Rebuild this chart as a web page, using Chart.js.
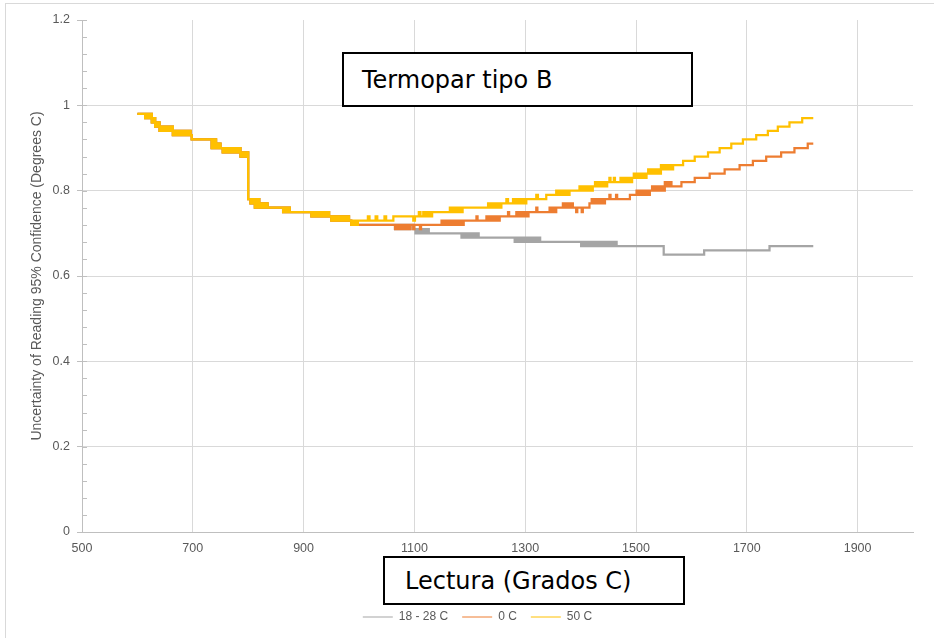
<!DOCTYPE html>
<html lang="es">
<head>
<meta charset="UTF-8">
<title>Termopar tipo B</title>
<script src="https://cdn.jsdelivr.net/npm/chart.js"></script>
<style>
    body {
        margin: 0;
        background: #fff;
    }
    #wrap {
        position: relative;
        width: 934px;
        height: 638px;
        overflow: hidden;
        background: #fff;
    }
    #frame {
        position: absolute;
        left: 5px;
        top: 3px;
        width: 1000px;
        height: 700px;
        border-left: 1px solid #d9d9d9;
        border-top: 1px solid #d9d9d9;
    }
    #chart {
        position: absolute;
        left: 0;
        top: 0;
    }
    .box {
        position: absolute;
        box-sizing: border-box;
        border: 2px solid #000;
        background: #fff;
        color: #000;
        font-family: 'DejaVu Sans', Verdana, sans-serif;
        font-size: 24px;
        display: flex;
        align-items: center;
        white-space: nowrap;
    }
    #titleBox {
        left: 342px;
        top: 52px;
        width: 351px;
        height: 55px;
        padding-left: 18px;
    }
    #axisBox {
        left: 383px;
        top: 556px;
        width: 302px;
        height: 49px;
        padding-left: 20px;
    }
</style>
</head>
<body>
<div id="wrap">
    <div id="frame"></div>
    <canvas id="chart" width="934" height="638"></canvas>
    <div class="box" id="titleBox">Termopar tipo B</div>
    <div class="box" id="axisBox">Lectura (Grados C)</div>
</div>

<script>
    // tick labels
    const xTicks = [500, 700, 900, 1100, 1300, 1500, 1700, 1900];
    const yTicks = [0, 0.2, 0.4, 0.6, 0.8, 1, 1.2];
    const seriesNames = ['18 - 28 C', '0 C', '50 C'];

    // [reading, uncertainty] change points
    // 600-982: the three curves lie on top of each other
    const sharedStart = [
        [600,0.98],[614,0.97],[617,0.98],[620,0.97],[623,0.98],[626,0.96],[629,0.97],[632,0.95],
        [636,0.96],[640,0.94],[644,0.95],[648,0.94],[652,0.95],[656,0.94],[660,0.95],
        [664,0.93],[668,0.94],[672,0.93],[676,0.94],[680,0.93],[684,0.94],[688,0.93],[692,0.94],[696,0.93],
        [698,0.92],
        [734,0.90],[738,0.92],[742,0.90],[746,0.91],[750,0.90],
        [754,0.89],[758,0.90],[762,0.89],[766,0.90],[770,0.89],[774,0.90],[778,0.89],[782,0.90],
        [786,0.88],[790,0.89],[794,0.88],[797,0.89],
        [800,0.78],[804,0.77],[808,0.78],[812,0.76],[816,0.78],[820,0.76],[824,0.77],[828,0.76],[832,0.77],
        [835,0.76],
        [863,0.75],[866,0.76],[869,0.75],[872,0.76],[875,0.75],
        [914,0.74],[918,0.75],[922,0.74],[926,0.75],[930,0.74],[934,0.75],[938,0.74],[942,0.75],[946,0.74],
        [950,0.73],[954,0.74],[958,0.73],[962,0.74],[966,0.73],[970,0.74],[974,0.73],[978,0.74],[982,0.73]
    ];

    // 986-1093: grey and orange still together
    const coldShared = [
        [986,0.72],
        [1065,0.71],[1069,0.72],[1073,0.71],[1077,0.72],[1081,0.71],[1085,0.72],[1089,0.71],[1093,0.72]
    ];

    const greyTail = [
        [1098,0.71],[1102,0.70],[1106,0.71],[1110,0.70],[1114,0.71],[1118,0.70],[1122,0.71],[1126,0.70],
        [1185,0.69],[1189,0.70],[1193,0.69],[1197,0.70],[1201,0.69],[1205,0.70],[1209,0.69],[1213,0.70],[1216,0.69],
        [1281,0.68],[1285,0.69],[1289,0.68],[1293,0.69],[1297,0.68],[1301,0.69],[1305,0.68],[1309,0.69],
        [1313,0.68],[1317,0.69],[1321,0.68],[1325,0.69],[1327,0.68],
        [1401,0.67],[1405,0.68],[1409,0.67],[1413,0.68],[1417,0.67],[1421,0.68],[1425,0.67],[1429,0.68],
        [1433,0.67],[1437,0.68],[1441,0.67],[1445,0.68],[1449,0.67],[1453,0.68],[1457,0.67],[1461,0.68],[1465,0.67],
        [1550,0.65],[1623,0.66],[1741,0.67],[1820,0.67]
    ];

    const orangeTail = [
        [1098,0.71],[1100,0.72],[1110,0.71],[1112,0.72],
        [1149,0.73],[1153,0.72],[1157,0.73],[1161,0.72],[1165,0.73],[1169,0.72],[1173,0.73],[1177,0.72],
        [1181,0.73],[1185,0.72],[1189,0.73],
        [1212,0.74],[1214,0.73],
        [1230,0.74],[1234,0.73],[1238,0.74],[1242,0.73],[1246,0.74],[1250,0.73],[1254,0.74],
        [1269,0.75],[1271,0.74],
        [1284,0.75],[1288,0.74],[1292,0.75],[1296,0.74],[1300,0.75],[1304,0.74],[1306,0.75],
        [1320,0.76],[1322,0.75],
        [1344,0.76],[1348,0.75],[1351,0.76],[1354,0.75],[1356,0.76],
        [1368,0.77],[1372,0.76],[1376,0.77],[1380,0.76],[1384,0.77],[1386,0.76],
        [1392,0.75],[1394,0.76],[1402,0.75],[1404,0.76],
        [1416,0.77],[1420,0.78],[1424,0.77],[1428,0.78],[1432,0.77],[1436,0.78],[1440,0.77],[1444,0.78],
        [1452,0.79],[1454,0.78],[1464,0.79],[1466,0.78],
        [1489,0.79],
        [1501,0.80],[1505,0.79],[1509,0.80],[1513,0.79],[1517,0.80],[1521,0.79],[1525,0.80],
        [1529,0.81],[1533,0.80],[1537,0.81],[1541,0.80],[1545,0.81],[1549,0.80],
        [1552,0.82],[1556,0.81],[1560,0.82],[1564,0.81],
        [1582,0.82],[1606,0.83],[1633,0.84],[1660,0.85],[1687,0.86],[1711,0.87],[1735,0.88],
        [1762,0.89],[1786,0.90],[1810,0.91],[1820,0.91]
    ];

    const yellowTail = [
        [986,0.72],[990,0.73],[994,0.72],[998,0.73],
        [1016,0.74],[1019,0.73],[1030,0.74],[1033,0.73],[1046,0.74],[1049,0.73],
        [1062,0.74],[1098,0.73],[1101,0.74],[1108,0.75],[1111,0.74],
        [1116,0.75],[1120,0.74],[1124,0.75],[1128,0.74],[1132,0.75],
        [1164,0.76],[1168,0.75],[1172,0.76],[1176,0.75],[1180,0.76],[1184,0.75],[1187,0.76],
        [1233,0.77],[1237,0.76],[1241,0.77],[1245,0.76],[1249,0.77],[1253,0.76],[1257,0.77],
        [1266,0.78],[1269,0.77],
        [1278,0.78],[1282,0.77],[1286,0.78],[1290,0.77],[1294,0.78],[1298,0.77],[1302,0.78],
        [1320,0.79],[1323,0.78],
        [1338,0.79],
        [1356,0.80],[1360,0.79],[1364,0.80],[1368,0.79],[1372,0.80],[1376,0.79],[1380,0.80],
        [1398,0.81],[1402,0.80],[1406,0.81],[1410,0.80],[1414,0.81],[1418,0.80],[1422,0.81],
        [1426,0.82],[1430,0.81],[1434,0.82],[1438,0.81],[1442,0.82],[1446,0.81],[1448,0.82],
        [1452,0.83],[1454,0.82],[1460,0.83],[1462,0.82],
        [1472,0.83],[1476,0.82],[1480,0.83],[1484,0.82],[1488,0.83],[1490,0.82],[1493,0.83],
        [1496,0.84],[1500,0.83],[1504,0.84],[1508,0.83],[1512,0.84],[1516,0.83],[1519,0.84],
        [1522,0.85],[1526,0.84],[1530,0.85],[1534,0.84],[1538,0.85],[1542,0.84],
        [1545,0.86],[1549,0.85],[1553,0.86],[1557,0.85],[1561,0.86],[1564,0.85],
        [1567,0.86],[1585,0.87],[1606,0.88],[1630,0.89],[1651,0.90],[1672,0.91],[1693,0.92],
        [1717,0.93],[1738,0.94],[1756,0.95],[1777,0.96],[1800,0.97],[1820,0.97]
    ];

    const toPoints = arr => arr.map(p => ({x: p[0], y: p[1]}));

    const greyData = toPoints(sharedStart.concat(coldShared, greyTail));
    const orangeData = toPoints(sharedStart.concat(coldShared, orangeTail));
    const yellowData = toPoints(sharedStart.concat(yellowTail));

    const textGrey = '#595959';
    const gridGrey = '#d9d9d9';
    const axisGrey = '#bfbfbf';

    Chart.defaults.font.family = "'Liberation Sans', Arial, sans-serif";
    Chart.defaults.color = textGrey;

    // small tick marks on the value axis, like the spreadsheet does
    const minorTicks = {
        id: 'minorTicks',
        afterDraw(chart) {
            const ctx = chart.ctx;
            const y = chart.scales.y;
            const left = chart.chartArea.left;
            ctx.save();
            ctx.strokeStyle = axisGrey;
            ctx.lineWidth = 1;
            ctx.beginPath();
            for (let i = 0; i <= 30; i++) {
                const py = Math.round(y.getPixelForValue(i * 0.04)) + 0.5;
                ctx.moveTo(left, py);
                ctx.lineTo(left + 5, py);
            }
            ctx.stroke();
            ctx.restore();
        }
    };

    const chart = new Chart(document.getElementById('chart'), {
        type: 'line',
        data: {
            datasets: [
                {
                    label: seriesNames[0],
                    data: greyData,
                    borderColor: '#a5a5a5',
                    backgroundColor: '#a5a5a5',
                    order: 3
                },
                {
                    label: seriesNames[1],
                    data: orangeData,
                    borderColor: '#ed7d31',
                    backgroundColor: '#ed7d31',
                    order: 2
                },
                {
                    label: seriesNames[2],
                    data: yellowData,
                    borderColor: '#ffc000',
                    backgroundColor: '#ffc000',
                    order: 1
                }
            ]
        },
        options: {
            responsive: false,
            animation: false,
            devicePixelRatio: 1,
            layout: {
                padding: {left: 42, right: 21, top: 20, bottom: 5}
            },
            elements: {
                point: {radius: 0, hoverRadius: 0},
                line: {borderWidth: 2.25, stepped: true, fill: false, tension: 0}
            },
            scales: {
                x: {
                    type: 'linear',
                    min: 500,
                    max: 2000,
                    afterBuildTicks: scale => {
                        scale.ticks = xTicks.map(v => ({value: v}));
                    },
                    afterFit: scale => {
                        scale.height = 65;
                    },
                    ticks: {
                        padding: 9,
                        font: {size: 12.5},
                        callback: v => String(v)
                    },
                    grid: {
                        color: gridGrey,
                        drawTicks: false
                    },
                    border: {color: axisGrey}
                },
                y: {
                    min: 0,
                    max: 1.2,
                    afterBuildTicks: scale => {
                        scale.ticks = yTicks.map(v => ({value: v}));
                    },
                    afterFit: scale => {
                        scale.width = 40;
                    },
                    ticks: {
                        padding: 7,
                        font: {size: 12.5},
                        callback: v => String(+v.toFixed(2))
                    },
                    grid: {
                        color: c => (c.tick && (c.tick.value === 0 || c.tick.value === 1.2)) ? 'rgba(0,0,0,0)' : gridGrey,
                        tickColor: axisGrey,
                        tickLength: 5
                    },
                    border: {color: axisGrey},
                    title: {
                        display: true,
                        text: 'Uncertainty of Reading 95% Confidence (Degrees C)',
                        color: textGrey,
                        font: {size: 14},
                        padding: {top: -13.4, bottom: 0}
                    }
                }
            },
            plugins: {
                legend: {
                    position: 'bottom',
                    labels: {
                        usePointStyle: true,
                        pointStyle: 'line',
                        pointStyleWidth: 30,
                        padding: 14,
                        color: textGrey,
                        font: {size: 12},
                        sort: (a, b) => a.datasetIndex - b.datasetIndex
                    }
                },
                tooltip: {enabled: false}
            }
        },
        plugins: [minorTicks]
    });
</script>
</body>
</html>
